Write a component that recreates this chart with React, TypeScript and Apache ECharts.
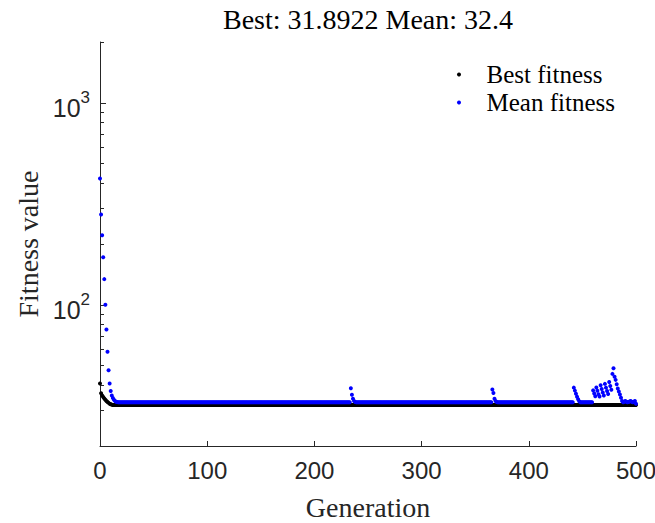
import { useEffect, useRef } from "react";
import * as echarts from "echarts";

// ---------------- data ----------------
const GEN_MAX = 500;
const TITLE = "Best: 31.8922 Mean: 32.4";
const SERIES_NAMES = ["Best fitness", "Mean fitness"];

// best fitness, generations 0..13, then flat at BEST_FINAL
const BEST_START = [40.8, 36.5, 35.6, 35.0, 34.4, 33.9, 33.4, 33.0, 32.7, 32.4, 32.2, 32.05, 31.95, 31.9];
const BEST_FINAL = 31.8922;

// mean fitness, generations 0..16, then flat at MEAN_FLAT except for the spikes
const MEAN_START = [422, 280, 221, 172, 134, 100, 75.5, 58.6, 47.4, 40.8, 37.4, 35.6, 34.6, 33.9, 33.4, 33.1, 33.0];
const MEAN_FLAT = 32.9;
const SPIKE_234 = [38.6, 35.9, 34.3, 33.4, 33.0];
const SPIKE_366 = [38.1, 36.6, 34.3, 33.4, 33.0];
const SPIKE_442 = [38.9, 37.6, 36.3, 35.1, 34.1, 33.3];
const CLUSTER_460 = [
  37.7, 36.4, 35.3, 39.0, 37.5, 36.1, 35.2, 40.0, 38.3, 36.8, 35.6, 40.6, 38.9, 37.4,
  36.2, 41.5, 39.6, 38.0, 45.5, 48.5, 44.0, 42.5, 40.4, 38.5, 37.2, 36.0, 34.7, 33.4,
];
const TAIL_488 = [32.9, 33.1, 33.4, 33.1, 32.9, 33.0, 33.2, 33.4, 33.1, 32.9, 33.1, 33.4, 32.4];
const MEAN_SEGMENTS: [number, number[]][] = [
  [0, MEAN_START],
  [234, SPIKE_234],
  [366, SPIKE_366],
  [442, SPIKE_442],
  [460, CLUSTER_460],
  [488, TAIL_488],
];

const X_TICKS = [0, 100, 200, 300, 400, 500];
const Y_MAJOR = [100, 1000];
const Y_MINOR = [20, 30, 40, 50, 60, 70, 80, 90, 200, 300, 400, 500, 600, 700, 800, 900, 2000];
const Y_MIN = 20;
const Y_MAX = 2000;

// ---------------- build series ----------------
function buildBest(): [number, number][] {
  const out: [number, number][] = [];
  for (let g = 0; g <= GEN_MAX; g++) {
    out.push([g, g < BEST_START.length ? BEST_START[g] : BEST_FINAL]);
  }
  return out;
}
function buildMean(): [number, number][] {
  const vals: number[] = [];
  for (let g = 0; g <= GEN_MAX; g++) vals.push(MEAN_FLAT);
  for (const [start, arr] of MEAN_SEGMENTS) {
    arr.forEach((v, i) => {
      vals[start + i] = v;
    });
  }
  return vals.map((v, g) => [g, v]);
}

const SERIF = "'Liberation Serif', 'Times New Roman', serif";
const SANS = "'Liberation Sans', Arial, Helvetica, sans-serif";
const AXIS_COLOR = "#262626";

const GRID = { left: 100, right: 19, top: 42, bottom: 77 };
const W = 655;
const H = 523;

export default function App() {
  const ref = useRef<HTMLDivElement>(null);
  useEffect(() => {
    if (!ref.current) return;
    const chart = echarts.init(ref.current, null, { renderer: "svg" });
    const supMap: Record<number, string> = { 100: "2", 1000: "3" };
    chart.setOption({
      animation: false,
      backgroundColor: "#ffffff",
      grid: { ...GRID, outerBoundsMode: "none", containLabel: false },
      graphic: [
        {
          type: "text",
          x: GRID.left + (W - GRID.left - GRID.right) / 2,
          y: 19,
          style: {
            text: TITLE,
            fontFamily: SERIF,
            fontSize: 28,
            fill: "#000",
            align: "center",
            verticalAlign: "middle",
          },
        },
      ],
      legend: {
        data: SERIES_NAMES.map((n) => ({ name: n, icon: "circle" })),
        orient: "vertical",
        left: 452,
        top: 57,
        itemWidth: 45,
        itemHeight: 4,
        itemGap: 3,
        selectedMode: false,
        textStyle: { fontFamily: SERIF, fontSize: 25, color: "#000", lineHeight: 25 },
      },
      xAxis: {
        type: "value",
        min: 0,
        max: GEN_MAX,
        interval: 100,
        name: "Generation",
        nameLocation: "middle",
        nameGap: 47,
        nameMoveOverlap: false,
        nameTextStyle: { fontFamily: SERIF, fontSize: 28, color: AXIS_COLOR },
        axisLine: { show: true, lineStyle: { color: AXIS_COLOR, width: 1 } },
        axisTick: { show: true, inside: true, length: 5, customValues: X_TICKS, lineStyle: { color: AXIS_COLOR } },
        axisLabel: {
          customValues: X_TICKS,
          fontFamily: SANS,
          fontSize: 24,
          color: AXIS_COLOR,
          margin: 12,
          showMinLabel: true,
          showMaxLabel: true,
        },
        splitLine: { show: false },
      },
      yAxis: [
        {
          type: "log",
          logBase: 10,
          min: Y_MIN,
          max: Y_MAX,
          position: "left",
          name: "Fitness value",
          nameLocation: "middle",
          nameGap: 58,
          nameMoveOverlap: false,
          nameTextStyle: { fontFamily: SERIF, fontSize: 28, color: AXIS_COLOR },
          axisLine: { show: true, lineStyle: { color: AXIS_COLOR, width: 1 } },
          axisTick: { show: true, inside: true, length: 6, customValues: Y_MAJOR, lineStyle: { color: AXIS_COLOR } },
          axisLabel: {
            customValues: Y_MAJOR,
            margin: 10,
            padding: [4, 0, 0, 0],
            formatter: (v: number) => `{b|10}{s|${supMap[Math.round(v)] ?? ""}}`,
            rich: {
              b: { fontFamily: SANS, fontSize: 25, color: AXIS_COLOR, padding: [6, 0, 0, 0], verticalAlign: "bottom" },
              s: { fontFamily: SANS, fontSize: 17, color: AXIS_COLOR, verticalAlign: "top" },
            },
          },
          splitLine: { show: false },
        },
        {
          type: "log",
          logBase: 10,
          min: Y_MIN,
          max: Y_MAX,
          position: "left",
          axisLine: { show: false },
          axisTick: { show: true, inside: true, length: 4, customValues: Y_MINOR, lineStyle: { color: AXIS_COLOR } },
          axisLabel: { show: false },
          splitLine: { show: false },
        },
      ],
      series: [
        {
          name: SERIES_NAMES[0],
          type: "scatter",
          yAxisIndex: 0,
          symbol: "circle",
          symbolSize: 4,
          itemStyle: { color: "#000000", opacity: 1 },
          data: buildBest(),
        },
        {
          name: SERIES_NAMES[1],
          type: "scatter",
          yAxisIndex: 0,
          symbol: "circle",
          symbolSize: 4,
          itemStyle: { color: "#0000ff", opacity: 1 },
          data: buildMean(),
        },
      ],
    });
    return () => chart.dispose();
  }, []);
  return (
    <div
      ref={ref}
      style={{ position: "fixed", left: 0, top: 0, width: W, height: H, background: "#fff" }}
    />
  );
}
